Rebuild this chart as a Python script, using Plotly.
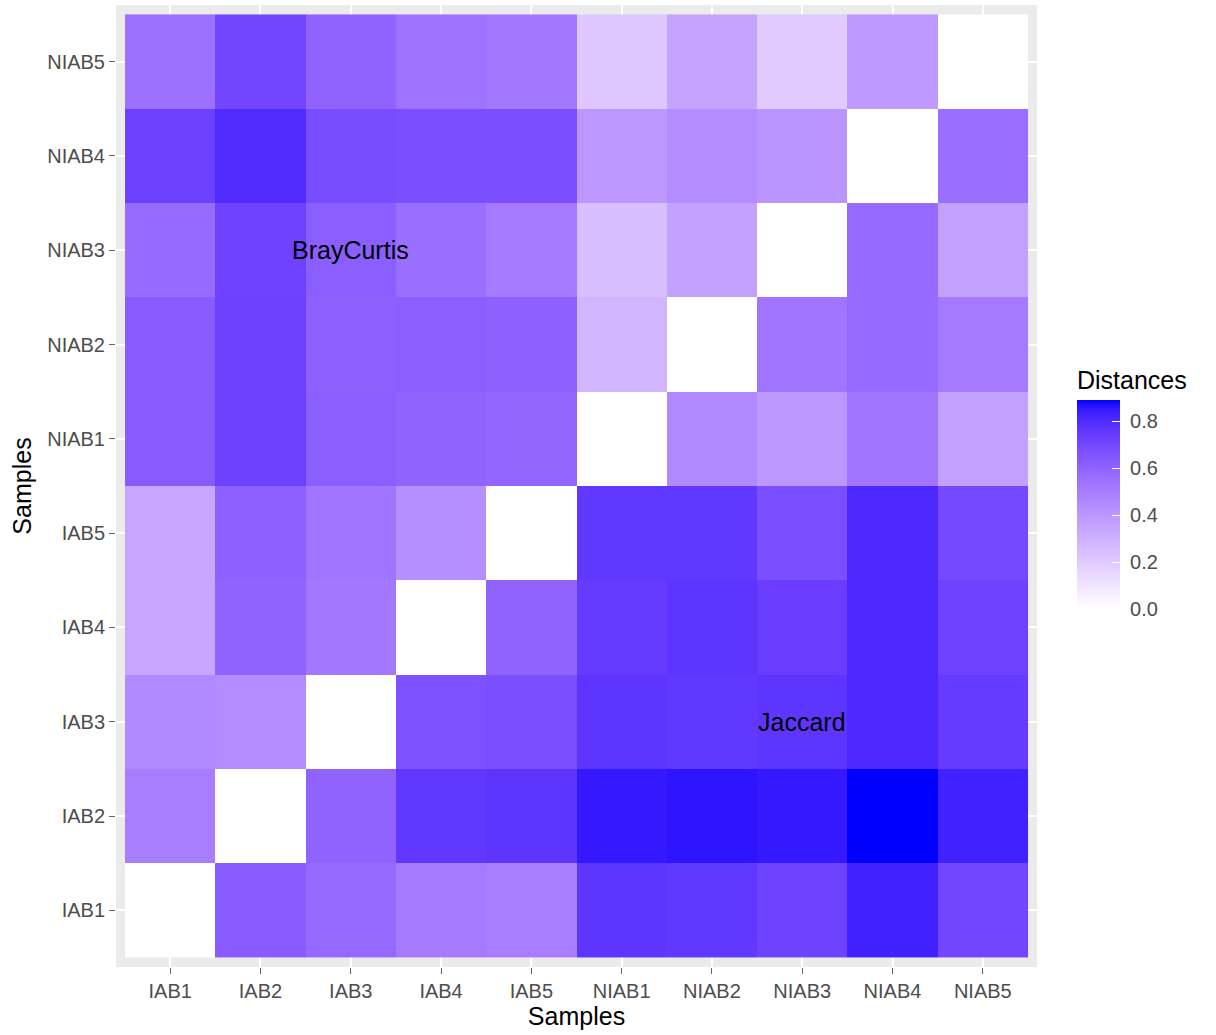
import plotly.graph_objects as go

# Sample labels (x: columns, y: rows from bottom to top)
samples = ["IAB1", "IAB2", "IAB3", "IAB4", "IAB5",
           "NIAB1", "NIAB2", "NIAB3", "NIAB4", "NIAB5"]

# Pairwise distances, one list per row sample.
# Upper-left block: Bray-Curtis, lower-right block: Jaccard.
dist_IAB1 = [0.00, 0.63, 0.58, 0.51, 0.50, 0.77, 0.76, 0.72, 0.83, 0.71]
dist_IAB2 = [0.50, 0.00, 0.60, 0.76, 0.77, 0.85, 0.86, 0.85, 0.89, 0.83]
dist_IAB3 = [0.45, 0.44, 0.00, 0.67, 0.68, 0.77, 0.76, 0.77, 0.81, 0.75]
dist_IAB4 = [0.34, 0.60, 0.52, 0.00, 0.60, 0.75, 0.77, 0.74, 0.81, 0.72]
dist_IAB5 = [0.34, 0.61, 0.53, 0.43, 0.00, 0.76, 0.76, 0.68, 0.81, 0.70]
dist_NIAB1 = [0.63, 0.73, 0.62, 0.60, 0.59, 0.00, 0.45, 0.40, 0.53, 0.36]
dist_NIAB2 = [0.63, 0.73, 0.61, 0.62, 0.61, 0.28, 0.00, 0.53, 0.57, 0.51]
dist_NIAB3 = [0.57, 0.72, 0.62, 0.56, 0.51, 0.25, 0.36, 0.00, 0.57, 0.36]
dist_NIAB4 = [0.73, 0.80, 0.69, 0.68, 0.68, 0.40, 0.44, 0.41, 0.00, 0.56]
dist_NIAB5 = [0.55, 0.71, 0.60, 0.54, 0.52, 0.21, 0.35, 0.20, 0.39, 0.00]

z = [dist_IAB1, dist_IAB2, dist_IAB3, dist_IAB4, dist_IAB5,
     dist_NIAB1, dist_NIAB2, dist_NIAB3, dist_NIAB4, dist_NIAB5]

colorbar_ticks = [0.0, 0.2, 0.4, 0.6, 0.8]


# --- white -> blue gradient interpolated in CIE Lab space ---
def _srgb_to_lin(c):
    c = c / 255.0
    return c / 12.92 if c <= 0.04045 else ((c + 0.055) / 1.055) ** 2.4


def _lin_to_srgb(c):
    c = min(max(c, 0.0), 1.0)
    v = 12.92 * c if c <= 0.0031308 else 1.055 * c ** (1 / 2.4) - 0.055
    return int(round(min(max(v, 0.0), 1.0) * 255))


WX, WY, WZ = 0.95047, 1.0, 1.08883


def _rgb_to_lab(rgb):
    r, g, b = (_srgb_to_lin(v) for v in rgb)
    x = 0.4124 * r + 0.3576 * g + 0.1805 * b
    y = 0.2126 * r + 0.7152 * g + 0.0722 * b
    zz = 0.0193 * r + 0.1192 * g + 0.9505 * b

    def f(t):
        return t ** (1 / 3) if t > 216 / 24389 else (24389 / 27 * t + 16) / 116

    fx, fy, fz = f(x / WX), f(y / WY), f(zz / WZ)
    return 116 * fy - 16, 500 * (fx - fy), 200 * (fy - fz)


def _lab_to_rgb(lab):
    L, a, b = lab
    fy = (L + 16) / 116
    fx = fy + a / 500
    fz = fy - b / 200

    def finv(t):
        return t ** 3 if t ** 3 > 216 / 24389 else (116 * t - 16) / (24389 / 27)

    x, y, zz = WX * finv(fx), WY * finv(fy), WZ * finv(fz)
    r = 3.2406 * x - 1.5372 * y - 0.4986 * zz
    g = -0.9689 * x + 1.8758 * y + 0.0415 * zz
    bb = 0.0557 * x - 0.2040 * y + 1.0570 * zz
    return _lin_to_srgb(r), _lin_to_srgb(g), _lin_to_srgb(bb)


low_lab = _rgb_to_lab((255, 255, 255))
high_lab = _rgb_to_lab((0, 0, 255))
n_stops = 40
colorscale = []
for i in range(n_stops + 1):
    t = i / n_stops
    lab = tuple(lo + (hi - lo) * t for lo, hi in zip(low_lab, high_lab))
    r, g, b = _lab_to_rgb(lab)
    colorscale.append([t, f"rgb({r},{g},{b})"])

zmax = max(max(row) for row in z)

FONT = "Liberation Sans, Arial, Helvetica, sans-serif"

fig = go.Figure(
    go.Heatmap(
        x=samples,
        y=samples,
        z=z,
        zmin=0,
        zmax=zmax,
        colorscale=colorscale,
        xgap=0,
        ygap=0,
        hovertemplate="x: %{x}<br>y: %{y}<br>Distance: %{z:.2f}<extra></extra>",
        colorbar=dict(
            title=dict(text="Distances", side="top",
                       font=dict(size=25, color="black", family=FONT)),
            tickvals=colorbar_ticks,
            # a leading no-break space keeps the labels clear of the bar
            ticktext=[f"\u00a0{v:.1f}" for v in colorbar_ticks],
            ticks="inside",
            ticklen=8,
            tickwidth=1.2,
            tickcolor="white",
            tickfont=dict(size=20, color="#4D4D4D", family=FONT),
            thickness=43,
            thicknessmode="pixels",
            lenmode="pixels",
            len=242,
            x=1.0434,
            xanchor="left",
            xpad=0,
            y=0.372,
            yanchor="bottom",
            ypad=0,
            outlinewidth=0,
        ),
    )
)

fig.add_annotation(x="IAB3", y="NIAB3", text="BrayCurtis", showarrow=False,
                   font=dict(size=25, color="black", family=FONT))
fig.add_annotation(x="NIAB3", y="IAB3", text="Jaccard", showarrow=False,
                   font=dict(size=25, color="black", family=FONT))

axis_common = dict(
    type="category",
    range=[-0.6, 9.6],
    showgrid=True,
    gridcolor="white",
    gridwidth=2,
    zeroline=False,
    showline=False,
    ticks="outside",
    ticklen=6,
    tickwidth=1,
    tickcolor="#666666",
    tickfont=dict(size=20, color="#4D4D4D", family=FONT),
)

fig.update_layout(
    width=1216,
    height=1035,
    margin=dict(l=116, r=179, t=5, b=68),
    paper_bgcolor="white",
    plot_bgcolor="#EBEBEB",
    font=dict(family=FONT),
    xaxis=dict(axis_common,
               title=dict(text="Samples", standoff=2,
                          font=dict(size=25, color="black", family=FONT))),
    yaxis=dict(axis_common,
               title=dict(text="Samples", standoff=8,
                          font=dict(size=25, color="black", family=FONT))),
)

fig.write_html("out.html")
